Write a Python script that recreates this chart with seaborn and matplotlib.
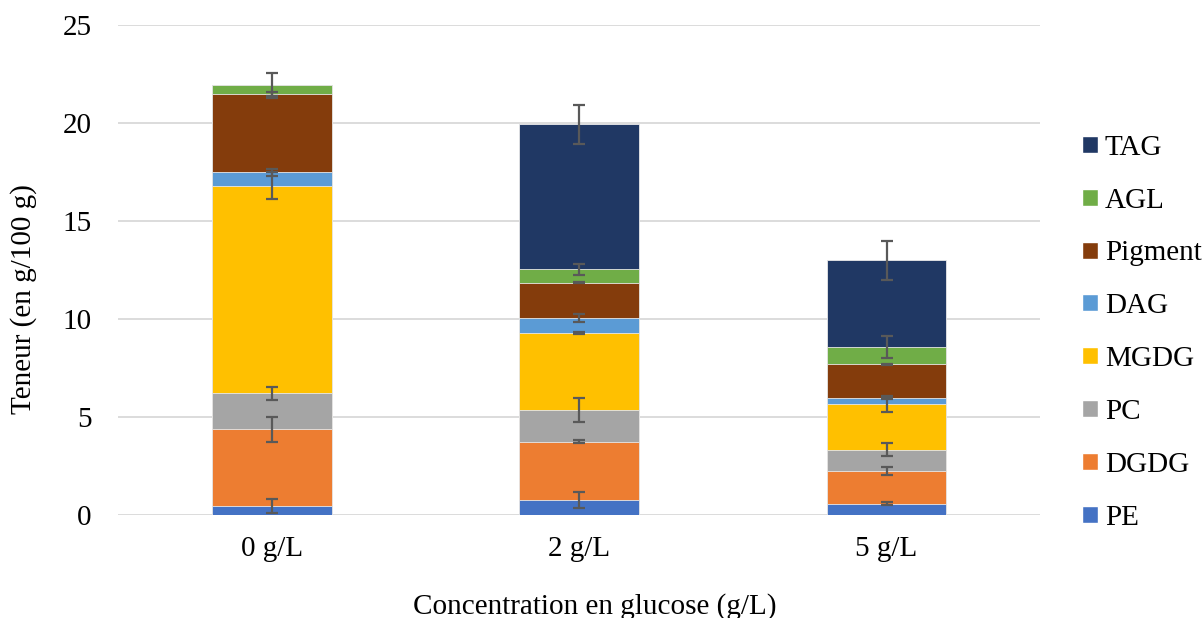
import numpy as np
import pandas as pd
import matplotlib
matplotlib.use('Agg')
import matplotlib.pyplot as plt
import seaborn as sns
from matplotlib.patches import Patch

# --- données ---
concentrations = ['0 g/L', '2 g/L', '5 g/L']
classes = ['PE', 'DGDG', 'PC', 'MGDG', 'DAG', 'Pigment', 'AGL', 'TAG']

PE      = [0.45, 0.78, 0.57]
DGDG    = [3.92, 2.95, 1.67]
PC      = [1.84, 1.64, 1.09]
MGDG    = [10.59, 3.93, 2.33]
DAG     = [0.68, 0.74, 0.29]
Pigment = [4.02, 1.81, 1.73]
AGL     = [0.42, 0.69, 0.88]
TAG     = [0.0, 7.40, 4.44]

PE_err      = [0.34, 0.41, 0.08]
DGDG_err    = [0.65, 0.08, 0.20]
PC_err      = [0.34, 0.61, 0.34]
MGDG_err    = [0.70, 0.05, 0.40]
DAG_err     = [0.16, 0.19, 0.05]
Pigment_err = [0.10, 0.03, 0.03]
AGL_err     = [0.65, 0.29, 0.57]
TAG_err     = [0.0, 1.00, 1.00]

couleurs = {
    'PE': '#4472C4', 'DGDG': '#ED7D31', 'PC': '#A5A5A5', 'MGDG': '#FFC000',
    'DAG': '#5B9BD5', 'Pigment': '#843C0C', 'AGL': '#70AD47', 'TAG': '#203864',
}

valeurs = [PE, DGDG, PC, MGDG, DAG, Pigment, AGL, TAG]
erreurs = [PE_err, DGDG_err, PC_err, MGDG_err, DAG_err, Pigment_err, AGL_err, TAG_err]

df = pd.DataFrame(np.array(valeurs).T, columns=classes)
df.insert(0, 'conc', concentrations)
cumul = df[classes].cumsum(axis=1)
cumul['conc'] = concentrations

# --- style ---
sns.set_style('white')
plt.rcParams['font.family'] = ['Liberation Serif', 'DejaVu Serif']
plt.rcParams['text.color'] = 'black'
plt.rcParams['axes.labelcolor'] = 'black'
plt.rcParams['xtick.color'] = 'black'
plt.rcParams['ytick.color'] = 'black'
fs = 21

fig = plt.figure(figsize=(12.04, 6.18), dpi=100)
ax = fig.add_axes([0.098, 0.1667, 0.766, 0.7928])

# barres empilées : on trace les cumuls du haut vers le bas
for c in reversed(classes):
    sns.barplot(data=cumul, x='conc', y=c, color=couleurs[c], width=0.39,
                saturation=1, ax=ax, zorder=2, edgecolor='#E8E8E8', linewidth=0.6)

# barres d'erreur au sommet de chaque segment
for c, err in zip(classes, erreurs):
    for i in range(len(concentrations)):
        if df[c].iloc[i] > 0:
            ax.errorbar(i, cumul[c].iloc[i], yerr=err[i], color='#595959',
                        capsize=4.5, elinewidth=1.6, capthick=1.6, zorder=5)

ax.set_ylim(0, 25)
ax.set_xlim(-0.5, 2.5)
ax.set_yticks([0, 5, 10, 15, 20, 25])
ax.yaxis.grid(True, color='#D9D9D9', linewidth=1.3, zorder=0)
ax.set_axisbelow(True)
for s in ax.spines.values():
    s.set_visible(False)
ax.tick_params(axis='both', length=0, labelsize=fs)
ax.tick_params(axis='x', pad=15)
ax.tick_params(axis='y', pad=19)
ax.set_xlabel('Concentration en glucose (g/L)', fontsize=fs, va='center')
ax.set_ylabel('Teneur (en g/100 g)', fontsize=fs, va='center')
ax.xaxis.set_label_coords(0.517, -0.186)
ax.yaxis.set_label_coords(-0.102, 0.44)

handles = [Patch(facecolor=couleurs[c], label=c) for c in reversed(classes)]
ax.legend(handles=handles, loc='center left', bbox_to_anchor=(1.033, 0.372),
          frameon=False, fontsize=fs, handlelength=0.52, handleheight=0.52,
          handletextpad=0.25, labelspacing=0.92, borderaxespad=0)

fig.savefig('out.png', dpi=100)
